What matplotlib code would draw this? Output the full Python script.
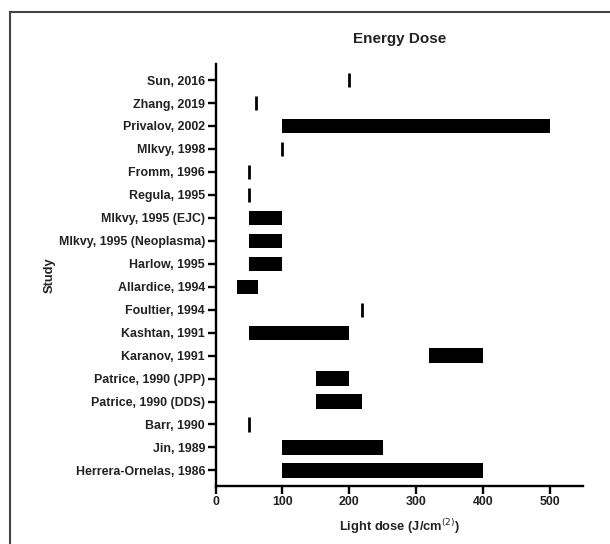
import matplotlib
matplotlib.use("Agg")
import matplotlib.pyplot as plt
from matplotlib.lines import Line2D

plt.rcParams['font.family'] = ['Liberation Sans', 'DejaVu Sans']

studies = ["Sun, 2016", "Zhang, 2019", "Privalov, 2002", "Mlkvy, 1998",
           "Fromm, 1996", "Regula, 1995", "Mlkvy, 1995 (EJC)",
           "Mlkvy, 1995 (Neoplasma)", "Harlow, 1995", "Allardice, 1994",
           "Foultier, 1994", "Kashtan, 1991", "Karanov, 1991",
           "Patrice, 1990 (JPP)", "Patrice, 1990 (DDS)", "Barr, 1990",
           "Jin, 1989", "Herrera-Ornelas, 1986"]
dose_low = [200, 60, 100, 100, 50, 50, 50, 50, 50, 32, 220, 50, 320, 150, 150, 50, 100, 100]
dose_high = [200, 60, 500, 100, 50, 50, 100, 100, 100, 63, 220, 200, 400, 200, 220, 50, 250, 400]
x_ticks = [0, 100, 200, 300, 400, 500]

fig = plt.figure(figsize=(6.10, 5.44), dpi=100)
ax = fig.add_axes([0.3533, 0.1066, 0.6024, 0.7758])

n = len(studies)
ypos = [n - 1 - i for i in range(n)]
widths = [h - l for l, h in zip(dose_low, dose_high)]
lws = [2.0 if w == 0 else 0 for w in widths]
ax.barh(ypos, widths, left=dose_low, height=0.62, color='black',
        edgecolor='black', linewidth=lws)

ax.set_xlim(0, 550)
ax.set_ylim(-0.68, n - 1 + 0.7)
ax.set_yticks(ypos)
ax.set_yticklabels(studies)
ax.set_xticks(x_ticks)
for lbl in ax.get_xticklabels() + ax.get_yticklabels():
    lbl.set_fontweight('bold')
    lbl.set_fontsize(8.9)
    lbl.set_color('#222222')

for s in ['top', 'right']:
    ax.spines[s].set_visible(False)
for s in ['left', 'bottom']:
    ax.spines[s].set_linewidth(1.7)
ax.tick_params(axis='both', width=1.7, length=5.5, pad=2)

ax.set_xlabel("Light dose (J/cm$^{(2)}$)", fontsize=9.3, fontweight='bold',
              labelpad=6, color='#222222')
ax.set_ylabel("Study", fontsize=9.3, fontweight='bold', color='#222222')
ax.yaxis.set_label_coords(-0.435, 0.5)
ax.set_title("Energy Dose", fontsize=11, fontweight='bold', pad=15, color='#222222')

# figure border (left and top)
fig.add_artist(Line2D([9.5 / 610, 9.5 / 610], [0, 1 - 12 / 544],
                      transform=fig.transFigure, color='#444444', lw=1.5))
fig.add_artist(Line2D([9.5 / 610, 1], [1 - 12 / 544, 1 - 12 / 544],
                      transform=fig.transFigure, color='#444444', lw=1.5))

fig.savefig("out.png", dpi=100)
